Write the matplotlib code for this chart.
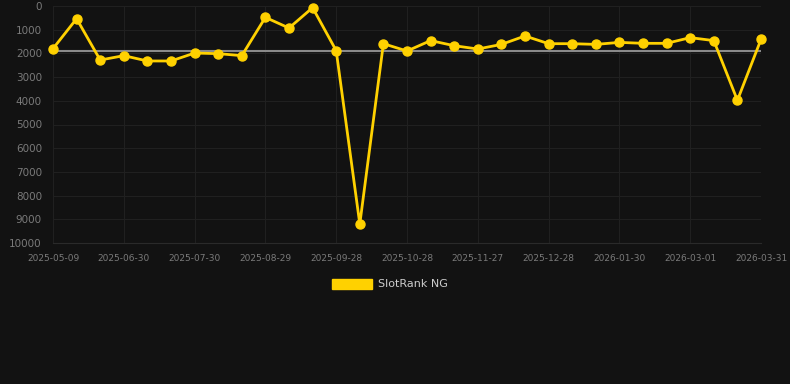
import numpy as np
import matplotlib
matplotlib.use('Agg')
from matplotlib import pyplot as plt
from matplotlib.patches import Patch

# tick labels shown every third point
date_labels = ['2025-05-09', '2025-06-30', '2025-07-30', '2025-08-29', '2025-09-28',
               '2025-10-28', '2025-11-27', '2025-12-28', '2026-01-30', '2026-03-01',
               '2026-03-31']
rank = [1800, 535, 2280, 2095, 2320, 2320, 1985, 2010, 2095, 480,
        930, 70, 1885, 9200, 1590, 1900, 1460, 1675, 1815, 1620,
        1265, 1590, 1590, 1620, 1535, 1575, 1575, 1335, 1460, 3980,
        1410]
avg_rank = 1890
yticks = [0, 1000, 2000, 3000, 4000, 5000, 6000, 7000, 8000, 9000, 10000]

bg = '#121212'
gold = '#FFD100'

fig = plt.figure(figsize=(7.9, 3.84), dpi=100, facecolor=bg)
ax = fig.add_axes([53 / 790, 1 - 243 / 384, (761 - 53) / 790, (243 - 6) / 384])
ax.set_facecolor(bg)

x = np.arange(len(rank))
ax.plot([x[0], x[-1]], [avg_rank, avg_rank], color='#8a8a8a', lw=1.5, zorder=2)
ax.plot(x, rank, color=gold, lw=2, marker='o', ms=6.5, zorder=3,
        solid_joinstyle='miter', clip_on=False)

ax.set_ylim(10000, 0)
ax.set_xlim(x[0], x[-1])
ax.set_yticks(yticks)
ax.set_yticklabels([str(v) for v in yticks])
ax.set_xticks(x[::3])
ax.set_xticklabels(date_labels)

ax.grid(True, color='#202020', lw=0.8)
ax.set_axisbelow(True)
for s in ['top', 'right', 'left']:
    ax.spines[s].set_visible(False)
ax.spines['bottom'].set_color('#2a2a2a')
ax.tick_params(axis='y', length=0, pad=8, labelsize=7.5, labelcolor='#7a7a7a')
ax.tick_params(axis='x', length=0, pad=8, labelsize=6.5, labelcolor='#7a7a7a')

handle = Patch(facecolor=gold, edgecolor=gold)
fig.legend([handle], ['SlotRank NG'], loc='center', bbox_to_anchor=(390 / 790, 1 - 284 / 384),
           frameon=False, fontsize=8, labelcolor='#cccccc', handlelength=3.6,
           handleheight=1.0, handletextpad=0.5)

fig.savefig('out.png', dpi=100, facecolor=bg)
